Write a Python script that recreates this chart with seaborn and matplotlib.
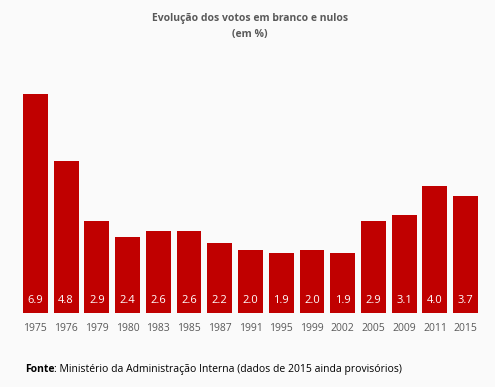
import pandas as pd
import matplotlib.pyplot as plt
import seaborn as sns

sns.set_style("white")
plt.rcParams["font.family"] = ["Open Sans", "DejaVu Sans"]

# data
anos = ["1975", "1976", "1979", "1980", "1983", "1985", "1987", "1991",
        "1995", "1999", "2002", "2005", "2009", "2011", "2015"]
votos = [6.9, 4.8, 2.9, 2.4, 2.6, 2.6, 2.2, 2.0, 1.9, 2.0, 1.9, 2.9, 3.1, 4.0, 3.7]

df = pd.DataFrame({"Ano": anos, "Votos": votos})

bg = "#FAFAFA"
fig = plt.figure(figsize=(4.95, 3.87), dpi=100, facecolor=bg)
ax = fig.add_axes([20 / 495, 1 - 313 / 387, 461 / 495, 7.5 * 31.7 / 387])
ax.set_facecolor(bg)

sns.barplot(data=df, x="Ano", y="Votos", color="#C00000", saturation=1,
            width=0.81, linewidth=0, ax=ax)

for i, v in enumerate(votos):
    ax.text(i, 0.38, f"{v:.1f}", ha="center", va="center", color="white",
            fontsize=8)

ax.set_ylim(0, 7.5)
ax.set_xlim(-0.5, len(anos) - 0.5)
ax.set_yticks([])
ax.set_xlabel("")
ax.set_ylabel("")
ax.tick_params(axis="x", length=0, labelsize=7.5, labelcolor="#595959", pad=7)
sns.despine(ax=ax, left=True, bottom=True)

fig.text(0.505, 1 - 18 / 387, "Evolução dos votos em branco e nulos",
         ha="center", va="center", fontsize=7.5, fontweight="bold", color="#595959")
fig.text(0.505, 1 - 35 / 387, "(em %)",
         ha="center", va="center", fontsize=7.5, fontweight="bold", color="#595959")

y_f = 1 - 372 / 387
t = fig.text(25 / 495, y_f, "Fonte", ha="left", va="baseline",
             fontsize=7.5, fontweight="bold", color="black")
fig.canvas.draw()
bb = t.get_window_extent()
fig.text(bb.x1 / fig.bbox.width, y_f,
         ": Ministério da Administração Interna (dados de 2015 ainda provisórios)",
         ha="left", va="baseline", fontsize=7.5, color="black")

fig.savefig("out.png", dpi=100, facecolor=bg)
